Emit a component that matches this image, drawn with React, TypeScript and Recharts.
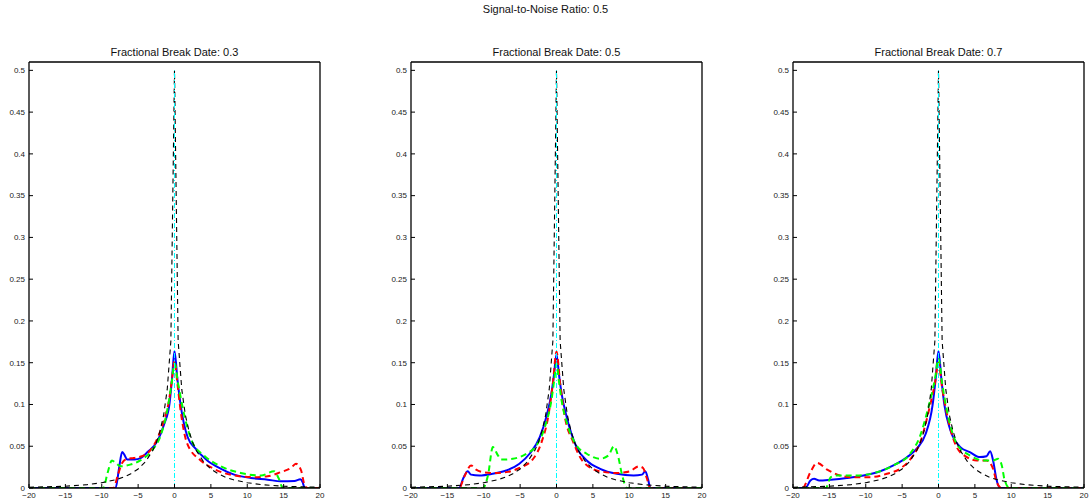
import React from 'react';
import { LineChart, Line, XAxis, YAxis } from 'recharts';

type P = { x: number; y: number };
const pts = (a: number[][]): P[] => a.map(([x, y]) => ({ x, y }));

const MAIN_TITLE = 'Signal-to-Noise Ratio: 0.5';
const PANEL_TITLES = ['Fractional Break Date: 0.3', 'Fractional Break Date: 0.5', 'Fractional Break Date: 0.7'];
const X_TICKS = [-20, -15, -10, -5, 0, 5, 10, 15, 20];
const Y_TICKS = [0, 0.05, 0.1, 0.15, 0.2, 0.25, 0.3, 0.35, 0.4, 0.45, 0.5];

// asymptotic density (black dashed)
const limitDensity = pts([
  [-20, 0.0009], [-15, 0.0021], [-12, 0.004], [-10, 0.0063], [-8, 0.0101], [-7, 0.013], [-6, 0.0171],
  [-5, 0.0227], [-4, 0.0313], [-3, 0.0447], [-2.5, 0.0544], [-2, 0.068], [-1.5, 0.087], [-1, 0.118],
  [-0.5, 0.176], [0, 0.5], [0.5, 0.176], [1, 0.118], [1.5, 0.087], [2, 0.068], [2.5, 0.0544],
  [3, 0.0447], [4, 0.0313], [5, 0.0227], [6, 0.0171], [7, 0.013], [8, 0.0101], [10, 0.0063],
  [12, 0.004], [15, 0.0021], [20, 0.0009],
]);
const breakLine = pts([[0, 0], [0, 0.5]]);

// panel 1 (0.3)
const blue1 = pts([
  [-20, 0], [-8.1, 0], [-7.6, 0.025], [-7.2, 0.043], [-6.9, 0.04], [-6.5, 0.034], [-5.5, 0.034],
  [-4.6, 0.036], [-3.7, 0.043], [-2.3, 0.057], [-1.4, 0.077], [-0.7, 0.1], [-0.35, 0.13], [0, 0.164],
  [0.4, 0.13], [0.85, 0.099], [1.8, 0.061], [2.9, 0.047], [4.5, 0.033], [6.4, 0.023], [8.2, 0.016],
  [10.5, 0.012], [12.8, 0.01], [14.6, 0.008], [16.5, 0.0084], [17.3, 0.0104], [17.6, 0.007], [17.9, 0], [20, 0],
]);
const red1 = pts([
  [-20, 0], [-8.4, 0], [-7.8, 0.015], [-7.2, 0.03], [-6.5, 0.035], [-5.6, 0.036], [-4.2, 0.039],
  [-2.85, 0.051], [-1.45, 0.081], [-0.75, 0.105], [-0.35, 0.13], [0, 0.152], [0.4, 0.125], [0.85, 0.092],
  [1.75, 0.053], [3.6, 0.033], [5.4, 0.023], [8.2, 0.015], [10.9, 0.013], [12.8, 0.014], [14.6, 0.019],
  [16, 0.024], [16.7, 0.029], [17.4, 0.021], [17.9, 0.003], [18.3, 0], [20, 0],
]);
const green1 = pts([
  [-20, 0], [-9.8, 0], [-9.2, 0.018], [-8.6, 0.033], [-8.1, 0.03], [-7.4, 0.026], [-6.1, 0.028],
  [-4.7, 0.033], [-3.1, 0.045], [-1.9, 0.063], [-1.0, 0.093], [-0.4, 0.125], [0, 0.149], [0.5, 0.125],
  [1.3, 0.089], [2.45, 0.055], [4.05, 0.039], [6.35, 0.026], [9.1, 0.018], [11.9, 0.015], [13.7, 0.02],
  [14.3, 0.012], [14.9, 0], [20, 0],
]);

// panel 2 (0.5)
const blue2 = pts([
  [-20, 0], [-13.4, 0], [-12.8, 0.012], [-12.2, 0.02], [-11.75, 0.016], [-10.6, 0.015], [-8.8, 0.017],
  [-6.9, 0.021], [-5.1, 0.029], [-3.7, 0.041], [-2.3, 0.061], [-1.4, 0.085], [-0.7, 0.113], [-0.35, 0.135],
  [0, 0.16], [0.35, 0.135], [0.7, 0.113], [1.4, 0.085], [2.75, 0.049], [4.15, 0.033], [6, 0.023],
  [8.3, 0.017], [10.6, 0.015], [11.75, 0.016], [12.2, 0.02], [12.6, 0.01], [12.9, 0], [20, 0],
]);
const red2 = pts([
  [-20, 0], [-13.4, 0], [-12.6, 0.015], [-11.75, 0.027], [-11.05, 0.022], [-10.1, 0.019], [-8.8, 0.018],
  [-6.9, 0.019], [-5.1, 0.024], [-3.2, 0.035], [-2.05, 0.055], [-1.15, 0.085], [-0.5, 0.125], [0, 0.163],
  [0.5, 0.125], [1.15, 0.085], [2.3, 0.055], [3.7, 0.031], [6, 0.02], [8.3, 0.018], [10.1, 0.02],
  [11.3, 0.026], [11.9, 0.024], [12.4, 0.012], [12.9, 0], [20, 0],
]);
const green2 = pts([
  [-20, 0], [-10.1, 0], [-9.4, 0.016], [-8.75, 0.049], [-8.05, 0.039], [-7.6, 0.034], [-6, 0.035],
  [-4.15, 0.041], [-2.75, 0.051], [-1.6, 0.073], [-0.7, 0.105], [-0.3, 0.13], [0, 0.149], [0.3, 0.13],
  [0.7, 0.105], [1.6, 0.073], [2.75, 0.051], [4.15, 0.041], [6, 0.035], [7.15, 0.039], [7.9, 0.05],
  [8.5, 0.037], [9.0, 0.016], [9.7, 0], [20, 0],
]);

// panel 3 (0.7)
const blue3 = pts([
  [-20, 0], [-18.3, 0], [-17.6, 0.009], [-17.1, 0.011], [-16.4, 0.009], [-14.8, 0.01], [-12.6, 0.012],
  [-10.3, 0.015], [-8, 0.02], [-6.2, 0.027], [-4.3, 0.037], [-2.9, 0.048], [-1.8, 0.064], [-0.8, 0.1],
  [-0.4, 0.13], [0, 0.164], [0.4, 0.13], [0.8, 0.1], [1.6, 0.07], [3, 0.049], [4.3, 0.043], [5.7, 0.037],
  [6.6, 0.038], [7.1, 0.044], [7.5, 0.033], [8, 0.009], [8.45, 0], [20, 0],
]);
const red3 = pts([
  [-20, 0], [-18.7, 0], [-17.6, 0.019], [-16.7, 0.03], [-15.3, 0.022], [-13.9, 0.016], [-12.1, 0.013],
  [-9.4, 0.013], [-7.1, 0.017], [-5.3, 0.023], [-3.65, 0.037], [-2.5, 0.055], [-1.4, 0.09], [-0.5, 0.125],
  [0, 0.15], [0.5, 0.12], [1.15, 0.089], [2.5, 0.049], [3.9, 0.037], [5.25, 0.033], [6.6, 0.033],
  [7.5, 0.023], [8, 0.007], [8.7, 0], [20, 0],
]);
const green3 = pts([
  [-20, 0], [-15.5, 0], [-14.8, 0.013], [-13.9, 0.015], [-11.2, 0.015], [-8.45, 0.019], [-6.2, 0.027],
  [-3.9, 0.041], [-2.5, 0.063], [-1.5, 0.093], [-0.5, 0.13], [0, 0.155], [0.5, 0.125], [1.15, 0.093],
  [2.5, 0.053], [4.3, 0.039], [6.2, 0.033], [7.5, 0.033], [8.2, 0.035], [8.7, 0.027], [9.1, 0.009],
  [9.8, 0], [20, 0],
]);

const PANELS = [
  { title: PANEL_TITLES[0], blue: blue1, red: red1, green: green1 },
  { title: PANEL_TITLES[1], blue: blue2, red: red2, green: green2 },
  { title: PANEL_TITLES[2], blue: blue3, red: red3, green: green3 },
];

const FONT = '"Liberation Sans", Arial, Helvetica, sans-serif';
const PLOT_LEFTS = [29, 411, 793];
const PLOT_W = 291;
const YAXIS_W = 29;
const RIGHT_PAD = 12;
const PLOT_TOP = 62;
const PLOT_BOTTOM = 488;
const CH = 504;

const fmtX = (v: number) => (v < 0 ? '\u2212' + Math.abs(v) : String(v));
const fmtY = (v: number) => String(Number(v.toFixed(2)));
const AXIS_LINE = { stroke: '#000', strokeWidth: 1.3 };
const TICK_LINE = { stroke: '#000', strokeWidth: 1 };

function Panel({ idx }: { idx: number }) {
  const p = PANELS[idx];
  const chartLeft = PLOT_LEFTS[idx] - YAXIS_W;
  const cw = YAXIS_W + PLOT_W + RIGHT_PAD + 1;
  const xAxisH = CH - PLOT_BOTTOM;
  const tickStyle = { fill: '#222', fontSize: 8, fontFamily: FONT };
  return (
    <div style={{ position: 'absolute', left: chartLeft, top: 0, width: cw, height: CH }}>
      <div
        style={{
          position: 'absolute', left: YAXIS_W, width: PLOT_W, top: 46, height: 12, lineHeight: '12px',
          textAlign: 'center', fontFamily: FONT, fontSize: 11, color: '#111', whiteSpace: 'nowrap',
        }}
      >
        {p.title}
      </div>
      <LineChart width={cw} height={CH} margin={{ top: PLOT_TOP - 1, right: RIGHT_PAD, bottom: 0, left: 0 }}>
        <XAxis
          xAxisId="b" dataKey="x" type="number" domain={[-20, 20]} ticks={X_TICKS} allowDataOverflow
          interval={0} height={xAxisH} tickSize={-4} tickMargin={8} axisLine={AXIS_LINE} tickLine={TICK_LINE}
          tick={tickStyle} tickFormatter={fmtX}
        />
        <XAxis
          xAxisId="t" orientation="top" dataKey="x" type="number" domain={[-20, 20]} ticks={X_TICKS}
          allowDataOverflow interval={0} height={1} tickSize={-4} axisLine={AXIS_LINE} tickLine={TICK_LINE}
          tick={false}
        />
        <YAxis
          yAxisId="l" type="number" domain={[0, 0.51]} ticks={Y_TICKS} allowDataOverflow interval={0}
          width={YAXIS_W} tickSize={-4} tickMargin={8} axisLine={AXIS_LINE} tickLine={TICK_LINE}
          tick={tickStyle} tickFormatter={fmtY}
        />
        <YAxis
          yAxisId="r" orientation="right" type="number" domain={[0, 0.51]} ticks={Y_TICKS} allowDataOverflow
          interval={0} width={1} tickSize={-4} axisLine={AXIS_LINE} tickLine={TICK_LINE} tick={false}
        />
        <Line xAxisId="t" yAxisId="r" data={breakLine} dataKey="y" type="linear" stroke="none"
          dot={false} activeDot={false} isAnimationActive={false} />
        <Line xAxisId="b" yAxisId="l" data={p.blue} dataKey="y" type="monotone" stroke="#0000ff"
          strokeWidth={2} dot={false} activeDot={false} isAnimationActive={false} />
        <Line xAxisId="b" yAxisId="l" data={p.red} dataKey="y" type="monotone" stroke="#ff0000"
          strokeWidth={2} strokeDasharray="6 4" dot={false} activeDot={false} isAnimationActive={false} />
        <Line xAxisId="b" yAxisId="l" data={p.green} dataKey="y" type="monotone" stroke="#00ff00"
          strokeWidth={2} strokeDasharray="6 4" dot={false} activeDot={false} isAnimationActive={false} />
        <Line xAxisId="b" yAxisId="l" data={limitDensity} dataKey="y" type="linear" stroke="#000"
          strokeWidth={1.1} strokeDasharray="5 4" dot={false} activeDot={false} isAnimationActive={false} />
        <Line xAxisId="b" yAxisId="l" data={breakLine} dataKey="y" type="linear" stroke="#00ffff"
          strokeWidth={1} strokeDasharray="5 2 1 2" dot={false} activeDot={false} isAnimationActive={false} />
      </LineChart>
    </div>
  );
}

export default function App() {
  return (
    <div style={{ position: 'absolute', left: 0, top: 0, width: 1091, height: 504, background: '#fff' }}>
      <div
        style={{
          position: 'absolute', left: 0, width: 1091, top: 3, height: 12, lineHeight: '12px',
          textAlign: 'center', fontFamily: FONT, fontSize: 11, color: '#111',
        }}
      >
        {MAIN_TITLE}
      </div>
      {[0, 1, 2].map((i) => (
        <Panel key={i} idx={i} />
      ))}
    </div>
  );
}
